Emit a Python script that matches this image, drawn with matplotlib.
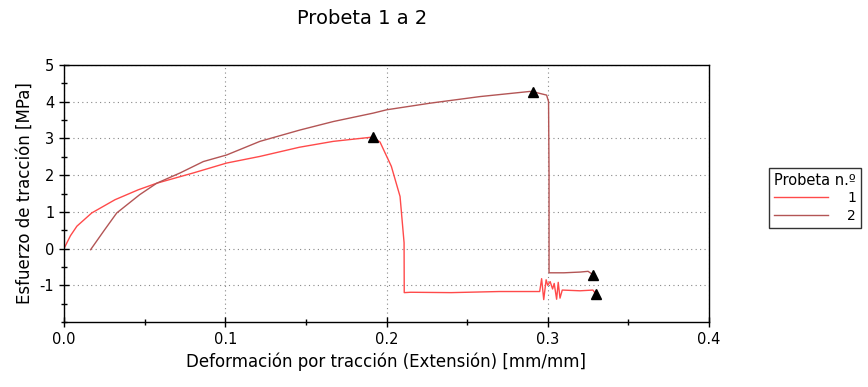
import numpy as np
import matplotlib
matplotlib.use("Agg")
import matplotlib.pyplot as plt
from matplotlib.ticker import MultipleLocator

# Probeta 1 (red)
x1 = [0.0, 0.004, 0.008, 0.0172, 0.0316, 0.046, 0.0575, 0.0802, 0.1009, 0.1215,
      0.146, 0.167, 0.19, 0.1916, 0.196, 0.203, 0.2084, 0.2109, 0.211,
      0.215, 0.24, 0.27, 0.295, 0.2962, 0.2975, 0.299, 0.300, 0.3015, 0.303,
      0.304, 0.3055, 0.3065, 0.3076, 0.309, 0.32, 0.328, 0.330]
y1 = [0.0, 0.35, 0.61, 0.97, 1.33, 1.6, 1.78, 2.06, 2.33, 2.51,
      2.76, 2.92, 3.03, 3.04, 2.9, 2.24, 1.42, 0.16, -1.2,
      -1.19, -1.2, -1.17, -1.17, -0.82, -1.39, -0.85, -1.0, -0.9, -1.1,
      -0.95, -1.38, -0.92, -1.35, -1.13, -1.15, -1.13, -1.25]

# Probeta 2 (brown)
x2 = [0.0165, 0.025, 0.0327, 0.047, 0.0575, 0.072, 0.0864, 0.1009, 0.1215,
      0.1464, 0.167, 0.1918, 0.2001, 0.227, 0.258, 0.289, 0.291, 0.2993,
      0.3005, 0.3008, 0.3008, 0.31, 0.32, 0.325, 0.328]
y2 = [-0.03, 0.5, 0.97, 1.47, 1.78, 2.06, 2.37, 2.55, 2.92,
      3.23, 3.46, 3.69, 3.78, 3.96, 4.14, 4.28, 4.27, 4.18,
      4.0, 2.0, -0.66, -0.66, -0.64, -0.62, -0.71]

# break markers (peak and end of each curve)
mark_x = [0.1916, 0.330, 0.291, 0.328]
mark_y = [3.04, -1.25, 4.27, -0.71]

labels = ["1", "2"]
colors = ["#ff4a4a", "#b35555"]

fig = plt.figure(figsize=(8.68, 3.87), dpi=100)
ax = fig.add_axes([64 / 868, 1 - 322 / 387, 645 / 868, 257 / 387])

ax.plot(x1, y1, color=colors[0], lw=1.0, label=labels[0])
ax.plot(x2, y2, color=colors[1], lw=1.0, label=labels[1])
ax.plot(mark_x, mark_y, "k^", ms=7, ls="none")

ax.set_xlim(0, 0.4)
ax.set_ylim(-2, 5)
ax.set_xticks([0.0, 0.1, 0.2, 0.3, 0.4])
ax.set_xticklabels(["0.0", "0.1", "0.2", "0.3", "0.4"])
ax.set_yticks([-1, 0, 1, 2, 3, 4, 5])
ax.set_yticklabels(["-1", "0", "1", "2", "3", "4", "5"])
ax.xaxis.set_minor_locator(MultipleLocator(0.05))
ax.yaxis.set_minor_locator(MultipleLocator(0.5))
ax.tick_params(which="major", direction="inout", length=7, width=1, labelsize=10.5)
ax.tick_params(which="minor", direction="inout", length=5, width=1)
ax.grid(True, which="major", ls=(0, (1, 3)), color="#888888", lw=0.8)
for s in ax.spines.values():
    s.set_linewidth(1.0)

ax.set_xlabel("Deformación por tracción (Extensión) [mm/mm]", fontsize=12)
ax.set_ylabel("Esfuerzo de tracción [MPa]", fontsize=12)
fig.text(362 / 868, 1 - 18 / 387, "Probeta 1 a 2", ha="center", va="center", fontsize=14)

leg = fig.legend(title="Probeta n.º", loc="upper left",
                 bbox_to_anchor=(769 / 868, 1 - 168 / 387),
                 frameon=True, fancybox=False, edgecolor="black",
                 handlelength=3.9, handletextpad=1.4, fontsize=10,
                 title_fontsize=10.5, borderpad=0.35, borderaxespad=0,
                 labelspacing=0.25)
leg.get_frame().set_linewidth(1.0)
leg._legend_box.align = "left"

fig.savefig("out.png", dpi=100)
